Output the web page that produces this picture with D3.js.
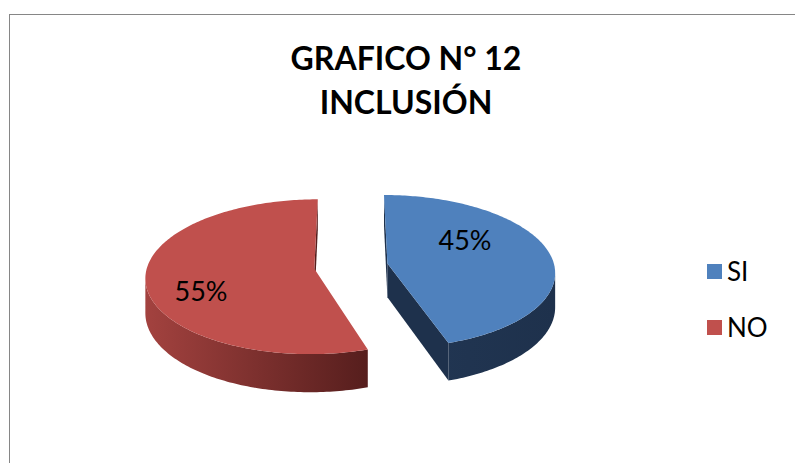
<!DOCTYPE html>
<html>
<head>
<meta charset="utf-8">
<script src="https://cdn.jsdelivr.net/npm/d3@7"></script>
<style>
  html, body { margin: 0; padding: 0; background: #ffffff; }
  svg { display: block; }
</style>
</head>
<body>
<svg id="chart"></svg>
<script>
// Chart data
const categories = ['SI', 'NO'];
const values = [45, 55];
const titleLines = ['GRAFICO N° 12', 'INCLUSIÓN'];

// Colours (top face, dark side start, dark side end)
const topColors = ['#4F81BD', '#C0504D'];
const sideLight = ['#223754', '#A3423F'];
const sideDark = ['#1E314C', '#561E1D'];

// SVG size
let width = 795, height = 463;

// Pie geometry (3D look)
let cx = 351, cy = 266;
let R = 167;        // radius along x
let RY = 76;        // radius along y at the centre depth
let persp = 0.104;  // perspective strength
let depth = 34;     // thickness of the pie
let explode = 37;   // explode distance of each slice
let camZ = -R / persp;

let svg = d3.select('#chart')
    .attr('width', width)
    .attr('height', height);

// Chart area border
svg.append('rect')
    .attr('x', 9.5)
    .attr('y', 14.5)
    .attr('width', 820)
    .attr('height', 500)
    .attr('fill', 'none')
    .attr('stroke', '#868686')
    .attr('stroke-width', 1);

// Title
svg.append('g')
    .selectAll('text')
    .data(titleLines)
    .enter()
    .append('text')
    .attr('x', 406)
    .attr('y', (d, i) => 70 + i * 44)
    .attr('text-anchor', 'middle')
    .attr('font-family', 'Lato, sans-serif')
    .attr('font-weight', 'bold')
    .attr('font-size', 32)
    .attr('fill', '#000')
    .text(d => d);

// Project a point on the pie plane to the screen
function project(X, Z, h) {
    let f = 1 / (1 + persp * Z / R);
    return [cx + X * f, cy - Z * (RY / R) * f + h * f];
}

let pie = d3.pie().sort(null).value(d => d);
let arcs = pie(values);

let defs = svg.append('defs');
let walls = svg.append('g');
let tops = svg.append('g');

arcs.forEach((a, i) => {
    let mid = (a.startAngle + a.endAngle) / 2;
    let ox = explode * Math.sin(mid), oz = explode * Math.cos(mid);

    let steps = Math.ceil((a.endAngle - a.startAngle) / (Math.PI / 180));
    let angles = d3.range(steps + 1).map(k => a.startAngle + (a.endAngle - a.startAngle) * k / steps);
    let rim = (t, h) => project(ox + R * Math.sin(t), oz + R * Math.cos(t), h);
    let centre = h => project(ox, oz, h);

    // gradient for the side of this slice
    let xs = angles.map(t => rim(t, 0)[0]).concat([centre(0)[0]]);
    let grad = defs.append('linearGradient')
        .attr('id', 'side' + i)
        .attr('gradientUnits', 'userSpaceOnUse')
        .attr('x1', d3.min(xs)).attr('x2', d3.max(xs))
        .attr('y1', 0).attr('y2', 0);
    grad.append('stop').attr('offset', 0).attr('stop-color', sideLight[i]);
    grad.append('stop').attr('offset', 1).attr('stop-color', sideDark[i]);

    // radial walls
    [[a.startAngle, -1], [a.endAngle, 1]].forEach(([t, s]) => {
        let nx = s * Math.cos(t), nz = -s * Math.sin(t);
        let vis = (0 - ox) * nx + (camZ - oz) * nz > 0;
        if (!vis) return;
        let pts = [centre(0), rim(t, 0), rim(t, depth), centre(depth)];
        walls.append('path')
            .attr('d', 'M' + pts.join('L') + 'Z')
            .attr('fill', sideDark[i]);
    });

    // curved wall, only the front facing parts
    let seg = [];
    let segs = [];
    angles.forEach(t => {
        let px = ox + R * Math.sin(t), pz = oz + R * Math.cos(t);
        let vis = (0 - px) * Math.sin(t) + (camZ - pz) * Math.cos(t) > 0;
        if (vis) seg.push(t);
        else if (seg.length) { segs.push(seg); seg = []; }
    });
    if (seg.length) segs.push(seg);
    segs.forEach(sg => {
        let pts = sg.map(t => rim(t, 0)).concat(sg.slice().reverse().map(t => rim(t, depth)));
        walls.append('path')
            .attr('d', 'M' + pts.join('L') + 'Z')
            .attr('fill', `url(#side${i})`);
    });

    // top face
    let topPts = [centre(0)].concat(angles.map(t => rim(t, 0)));
    tops.append('path')
        .attr('d', 'M' + topPts.join('L') + 'Z')
        .attr('fill', topColors[i]);
});

// Percentage labels
let labelPos = [[465, 250], [201, 301]];
svg.append('g')
    .selectAll('text')
    .data(values)
    .enter()
    .append('text')
    .attr('x', (d, i) => labelPos[i][0])
    .attr('y', (d, i) => labelPos[i][1])
    .attr('text-anchor', 'middle')
    .attr('font-family', 'Lato, sans-serif')
    .attr('font-size', 27)
    .attr('fill', '#000')
    .text(d => d + '%');

// Legend
let legend = svg.append('g')
    .selectAll('g')
    .data(categories)
    .enter()
    .append('g')
    .attr('transform', (d, i) => `translate(707, ${264 + i * 56})`);

legend.append('rect')
    .attr('width', 15)
    .attr('height', 15)
    .attr('fill', (d, i) => topColors[i]);

legend.append('text')
    .attr('x', 20)
    .attr('y', 17)
    .attr('font-family', 'Lato, sans-serif')
    .attr('font-size', 26)
    .attr('fill', '#000')
    .text(d => d);
</script>
</body>
</html>
